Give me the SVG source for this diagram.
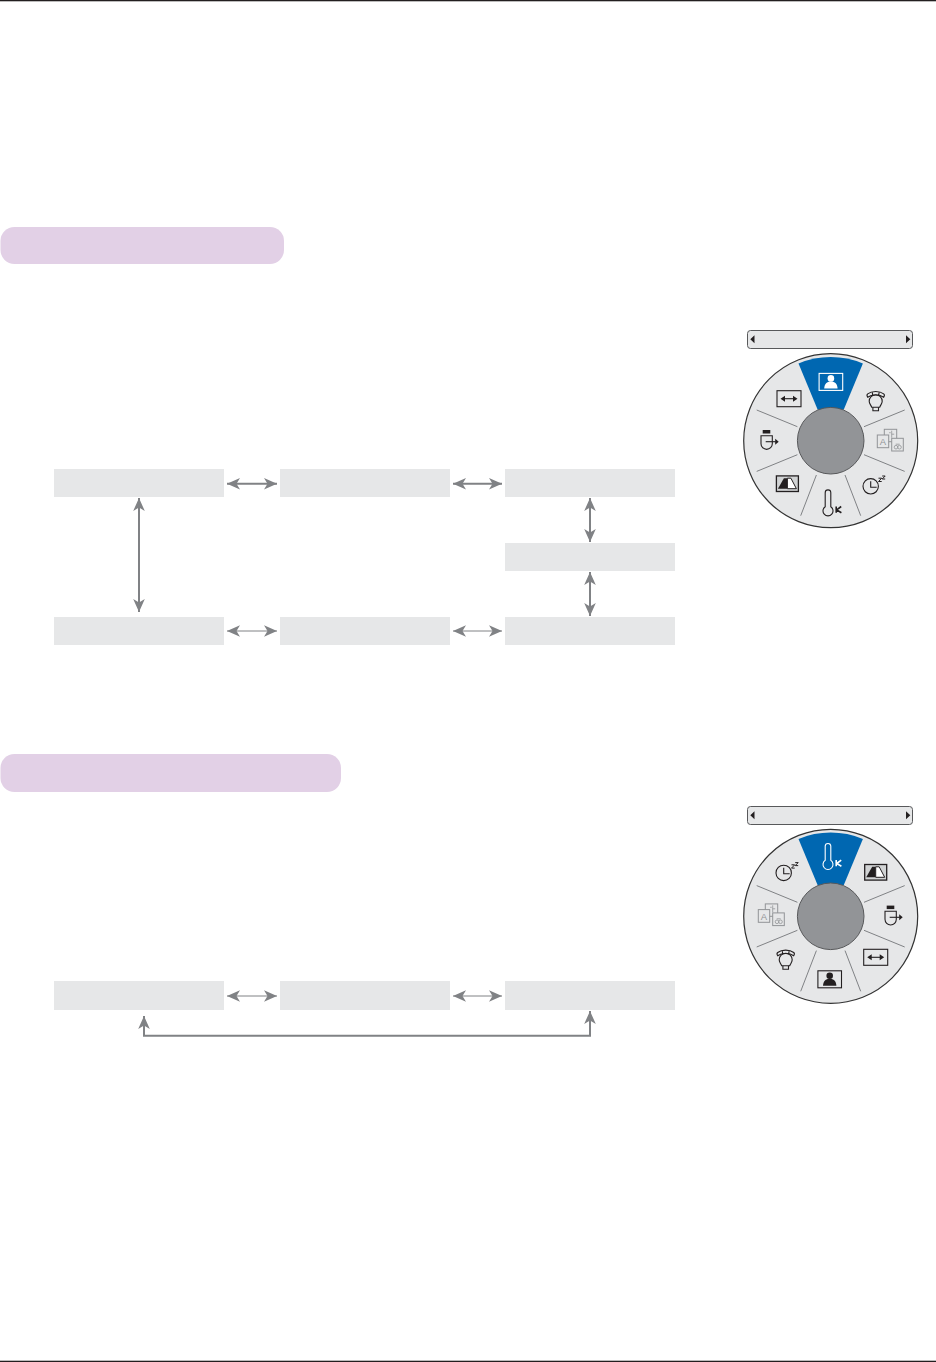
<svg xmlns="http://www.w3.org/2000/svg" width="936" height="1362" viewBox="0 0 936 1362">
<style>
.box{fill:#e6e7e8}
.pill{fill:#e2d0e6}
.thick{fill:none;stroke:#808285;stroke-width:2;marker-start:url(#ah);marker-end:url(#ah)}
.thin{fill:none;stroke:#808285;stroke-width:1;marker-start:url(#ah);marker-end:url(#ah)}
.bar{fill:#e6e7e8;stroke:#58595b;stroke-width:1}
.disc{fill:#e6e7e8;stroke:#333;stroke-width:1.2}
.hub{fill:#929497;stroke:#58595b;stroke-width:1}
.wedge{fill:#0067b1}
.spoke{stroke:#808285;stroke-width:1;fill:none}
.k{fill:none;stroke:#231f20;stroke-width:1.1}
.kf{fill:#231f20}
.kb{fill:none;stroke:#231f20;stroke-width:1.6}
.w{fill:none;stroke:#fff;stroke-width:1.1}
.wf{fill:#fff}
.wb{fill:none;stroke:#fff;stroke-width:1.6}
.g{fill:#e6e7e8;stroke:#929497;stroke-width:1}
</style>
<defs>
<marker id="ah" markerUnits="userSpaceOnUse" markerWidth="14" markerHeight="13" refX="13" refY="6.500" orient="auto-start-reverse" viewBox="0 0 14 13"><path d="M13 6.500L0 .7L3.500 6.500L0 12.300Z" fill="#808285"/></marker>
<g id="wheelbase">
<circle class="disc" r="87"/>
<path class="wedge" d="M-32.200-77.300A84 84 0 0 1 32.200-77.300L13-31H-13Z"/>
<path class="spoke" d="M33.300-14L74-30.700M33.300 14L74 30.700M14.300 34.300L30 75M-14.300 34.300L-30 75M-33.300 14L-74 30.700M-33.300-14L-74-30.700"/>
<circle class="hub" r="33.300"/>
</g>
<g id="ic-arrow">
<rect x="-12" y="-8" width="24" height="16" fill="none" stroke="#231f20" stroke-width="1.100"/>
<path class="k" d="M-5 0H5"/><path class="kf" d="M-8.500 0L-4-3V3ZM8.500 0L4-3V3Z"/>
</g>
<g id="ic-exit">
<rect x="-6" y="-9.700" width="7.600" height="3.500" class="kf"/>
<path class="k" d="M-7.700-4H3.600V4A5.650 5.650 0 0 1-7.700 4Z"/>
<path class="k" d="M-3 2H7"/><path class="kf" d="M10 2L6.500-1V5Z"/>
</g>
<g id="ic-trap">
<rect x="-11" y="-7.800" width="22" height="15.600" fill="#d1d3d4" stroke="#231f20" stroke-width="1.300"/>
<path class="kf" d="M-9.500 5L-3.500-5.500H0V5Z"/>
<path fill="#fff" stroke="#231f20" d="M0-5.500H3.500L9 5H0Z"/>
</g>
<g id="ic-thermo">
<path class="k" d="M-5.500-10A2.800 2.800 0 0 1 .1-10V4A5 5 0 1 1-5.500 4Z"/>
<path class="kb" d="M5.500 3.800V10M10.500 3.800L6 7.200L10.700 10"/>
</g>
<g id="ic-thermo-w">
<path class="w" d="M-5.500-10A2.800 2.800 0 0 1 .1-10V4A5 5 0 1 1-5.500 4Z"/>
<path class="wb" d="M5.500 3.800V10M10.500 3.800L6 7.200L10.700 10"/>
</g>
<g id="ic-clock">
<circle class="k" cx="-3" cy=".6" r="7.700"/>
<path class="k" d="M-3-4.500V1.500H3"/>
<path fill="none" stroke="#231f20" stroke-width="1" d="M4.800-7.500H8L4.800-4.200H8M8.500-9.700H11.500L8.500-6.700H11.500"/>
</g>
<g id="ic-lamp">
<path class="k" d="M-4 5.500C-5 3-6.500 2-6.500-.5A6.500 6.500 0 0 1 6.500-.5C6.500 2 5 3 4 5.500Z"/>
<path class="k" d="M-2.800 5.500V9H2.800V5.500"/>
<path class="k" d="M-8-4.500C-9-6-9-7-8-7.800C-4-11 4-11 8-7.800C9-7 9-6 8-4.500C4-7.500-4-7.500-8-4.500ZM-3.500-9.800L-3-6.600M3.500-9.800L3-6.600"/>
</g>
<g id="ic-letters">
<rect class="g" x="-5.400" y="-11.400" width="12.400" height="12.400"/>
<rect class="g" x="-12.400" y="-5.700" width="11.400" height="12.700"/>
<rect class="g" x="2" y="-2.400" width="11.600" height="12.700"/>
<path fill="none" stroke="#929497" stroke-width=".8" d="M-.5-8H1M2-10V-3M2-6.500H4.500M4.500 6.500A1.800 1.800 0 1 0 8.100 6.500A1.800 1.800 0 1 0 4.500 6.500M8 6.500A1.800 1.800 0 1 0 11.600 6.500A1.800 1.800 0 1 0 8 6.500M6 3.500H10"/>
<text x="-6.700" y="4.300" text-anchor="middle" font-family="'Liberation Sans',sans-serif" font-size="9.500" fill="#929497">A</text>
</g>
<g id="ic-person-w">
<rect x="-11.800" y="-8.500" width="23.600" height="17" fill="none" stroke="#fff" stroke-width="1.100"/>
<circle class="wf" cx="0" cy="-3.500" r="3.300"/><path class="wf" d="M-6.700 6.500C-6.500 2-4 -.5 0-.5S6.500 2 6.700 6.500Z"/>
</g>
<g id="ic-person-k">
<rect x="-11.800" y="-8.500" width="23.600" height="17" fill="none" stroke="#231f20" stroke-width="1.100"/>
<circle class="kf" cx="0" cy="-3.500" r="3.300"/><path class="kf" d="M-6.700 6.500C-6.500 2-4 -.5 0-.5S6.500 2 6.700 6.500Z"/>
</g>
</defs>

<rect width="936" height="1.300" fill="#231f20"/>
<rect y="1360.700" width="936" height="1.300" fill="#231f20"/>

<rect id="heading-1" class="pill" x=".5" y="227" width="283.500" height="37" rx="14"/>
<rect id="heading-2" class="pill" x=".5" y="754" width="340.500" height="38" rx="14"/>

<g id="connectors">
<path class="thick" d="M227 483.700H277"/>
<path class="thick" d="M453 483.700H502"/>
<path class="thick" d="M139 498V612"/>
<path class="thick" d="M590 498V542"/>
<path class="thick" d="M590 572V616"/>
<path class="thin" d="M227 631H277"/>
<path class="thin" d="M453 631H502"/>
<path class="thin" d="M227 996H277"/>
<path class="thin" d="M453 996H502"/>
<path class="thick" d="M144 1016V1035.700H590V1011"/>
</g>

<g id="node-a1"><rect class="box" x="54" y="469" width="170" height="28"/></g>
<g id="node-a2"><rect class="box" x="280" y="469" width="170" height="28"/></g>
<g id="node-a3"><rect class="box" x="505" y="469" width="170" height="28"/></g>
<g id="node-a4"><rect class="box" x="505" y="543" width="170" height="28"/></g>
<g id="node-a5"><rect class="box" x="505" y="617" width="170" height="28"/></g>
<g id="node-a6"><rect class="box" x="280" y="617" width="170" height="28"/></g>
<g id="node-a7"><rect class="box" x="54" y="617" width="170" height="28"/></g>
<g id="node-b1"><rect class="box" x="54" y="981" width="170" height="29"/></g>
<g id="node-b2"><rect class="box" x="280" y="981" width="170" height="29"/></g>
<g id="node-b3"><rect class="box" x="505" y="981" width="170" height="29"/></g>

<g id="bar-1">
<rect class="bar" x="747.500" y="330.500" width="165" height="18" rx="3"/>
<path class="kf" d="M750.300 339.300L754.500 335.300V343.300ZM910.300 339.300L906 335.300V343.300Z"/>
</g>
<g id="wheel-1" transform="translate(830.700 440.700)">
<use href="#wheelbase"/>
<use href="#ic-person-w" x=".2" y="-58.800"/>
<use href="#ic-lamp" x="45" y="-39"/>
<use href="#ic-letters" x="59" y="0"/>
<use href="#ic-clock" x="43" y="45"/>
<use href="#ic-thermo" x="0" y="62"/>
<use href="#ic-trap" x="-43.300" y="43"/>
<use href="#ic-exit" x="-62" y="-1"/>
<use href="#ic-arrow" x="-41.700" y="-42"/>
</g>
<g id="bar-2">
<rect class="bar" x="747.500" y="806.500" width="165" height="18" rx="3"/>
<path class="kf" d="M750.300 815.300L754.500 811.300V819.300ZM910.300 815.300L906 811.300V819.300Z"/>
</g>
<g id="wheel-2" transform="translate(830.700 916.300)">
<use href="#wheelbase"/>
<use href="#ic-thermo-w" x="0" y="-60"/>
<use href="#ic-trap" x="45" y="-44"/>
<use href="#ic-exit" x="62" y="-1"/>
<use href="#ic-arrow" x="45" y="41"/>
<use href="#ic-person-k" x="-1" y="63"/>
<use href="#ic-lamp" x="-45" y="44"/>
<use href="#ic-letters" x="-60" y="-1"/>
<use href="#ic-clock" x="-44" y="-44"/>
</g>
</svg>
